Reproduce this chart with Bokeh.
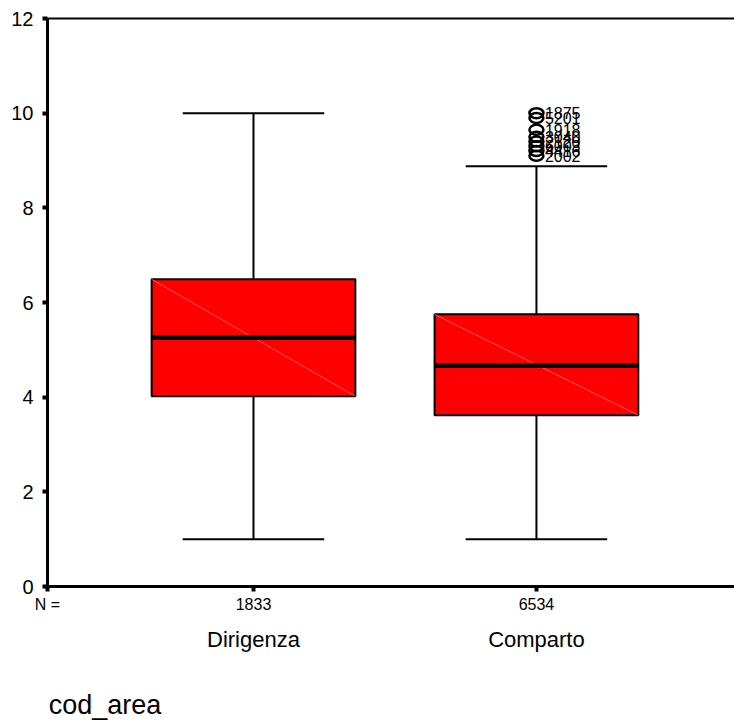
from bokeh.plotting import figure
from bokeh.models import Range1d, LinearAxis, FixedTicker
from bokeh.core.properties import value
from bokeh.embed import file_html
from bokeh.resources import INLINE

# ---- data ----
categories = ["Dirigenza", "Comparto"]
n_counts = ["1833", "6534"]
positions = [1, 2]
q1 = [4.02, 3.62]
median = [5.26, 4.67]
q3 = [6.49, 5.75]
whisker_low = [1.0, 1.0]
whisker_high = [10.0, 8.88]
outlier_values = [10.0, 9.9, 9.65, 9.5, 9.4, 9.3, 9.2, 9.1]
outlier_ids = ["1875", "5201", "1918", "3040", "2120", "6003", "4416", "2002"]
outlier_group = [2, 2, 2, 2, 2, 2, 2, 2]
y_ticks = [0, 2, 4, 6, 8, 10, 12]
axis_title = "cod_area"

FONT = "Liberation Sans"
X0 = 0.272
box_w = 0.72
cap_w = 0.5

p = figure(width=734, height=722, output_backend="svg", toolbar_location=None,
           x_range=Range1d(X0, 2.70), y_range=Range1d(0, 12),
           x_axis_location=None, y_axis_location=None,
           min_border_left=47, min_border_right=0, min_border_top=18, min_border_bottom=0)
p.grid.visible = False
p.outline_line_color = None
p.background_fill_color = "white"

# y axis
yax = LinearAxis(ticker=FixedTicker(ticks=y_ticks))
yax.axis_line_width = 3
yax.axis_line_color = "black"
yax.major_tick_out = 5
yax.major_tick_in = 0
yax.major_tick_line_width = 4
yax.minor_tick_line_color = None
yax.major_label_text_font = FONT
yax.major_label_text_font_size = "20px"
yax.major_label_text_color = "black"
yax.major_label_standoff = 9
p.add_layout(yax, "left")

# top border
top = LinearAxis(ticker=FixedTicker(ticks=[]))
top.axis_line_width = 2
top.major_tick_line_color = None
top.major_tick_out = 0
top.minor_tick_line_color = None
top.major_label_text_font_size = "0px"
p.add_layout(top, "above")

# x axis with N counts
xax = LinearAxis(ticker=FixedTicker(ticks=[X0] + positions))
xax.major_label_overrides = {X0: "N =", 1: n_counts[0], 2: n_counts[1]}
xax.axis_line_width = 3
xax.major_tick_out = 5
xax.major_tick_in = 0
xax.major_tick_line_width = 4
xax.minor_tick_line_color = None
xax.major_label_text_font = FONT
xax.major_label_text_font_size = "16px"
xax.major_label_text_color = "black"
xax.major_label_standoff = 4
p.add_layout(xax, "below")

# category axis
cax = LinearAxis(ticker=FixedTicker(ticks=positions))
cax.major_label_overrides = {1: categories[0], 2: categories[1]}
cax.axis_line_color = None
cax.major_tick_line_color = None
cax.major_tick_out = 0
cax.major_tick_in = 0
cax.minor_tick_line_color = None
cax.major_label_text_font = FONT
cax.major_label_text_font_size = "22px"
cax.major_label_text_color = "black"
cax.major_label_standoff = 11
p.add_layout(cax, "below")

# variable name axis (label placed to start at the frame's left edge)
tax = LinearAxis(ticker=FixedTicker(ticks=[X0 + 0.203]))
tax.major_label_overrides = {X0 + 0.203: axis_title}
tax.axis_line_color = None
tax.major_tick_line_color = None
tax.major_tick_out = 0
tax.major_tick_in = 0
tax.minor_tick_line_color = None
tax.major_label_text_font = FONT
tax.major_label_text_font_size = "27px"
tax.major_label_text_color = "black"
tax.major_label_standoff = 35
p.add_layout(tax, "below")

# whiskers
for i, x in enumerate(positions):
    p.segment(x0=[x, x], y0=[q3[i], q1[i]], x1=[x, x], y1=[whisker_high[i], whisker_low[i]],
              line_color="black", line_width=2)
    p.segment(x0=[x - cap_w / 2, x - cap_w / 2], y0=[whisker_high[i], whisker_low[i]],
              x1=[x + cap_w / 2, x + cap_w / 2], y1=[whisker_high[i], whisker_low[i]],
              line_color="black", line_width=2)

# boxes
p.quad(left=[x - box_w / 2 for x in positions], right=[x + box_w / 2 for x in positions],
       bottom=q1, top=q3, fill_color="#ff0000", line_color="black", line_width=2)
# faint diagonal artifact
p.segment(x0=[x - box_w / 2 for x in positions], y0=q3,
          x1=[x + box_w / 2 for x in positions], y1=q1,
          line_color="#ff7070", line_width=1, line_alpha=0.8)
# median
p.segment(x0=[x - box_w / 2 for x in positions], y0=median,
          x1=[x + box_w / 2 for x in positions], y1=median,
          line_color="black", line_width=5)

# outliers
p.ellipse(x=outlier_group, y=outlier_values, width=14, height=10,
          width_units="screen", height_units="screen",
          fill_color=None, line_color="black", line_width=2.5)
p.text(x=[g + 0.03 for g in outlier_group], y=outlier_values, text=outlier_ids,
       text_font=value(FONT), text_font_size="16px", text_baseline="middle",
       text_align="left", text_color="black")

open("out.html", "w").write(file_html(p, INLINE))
